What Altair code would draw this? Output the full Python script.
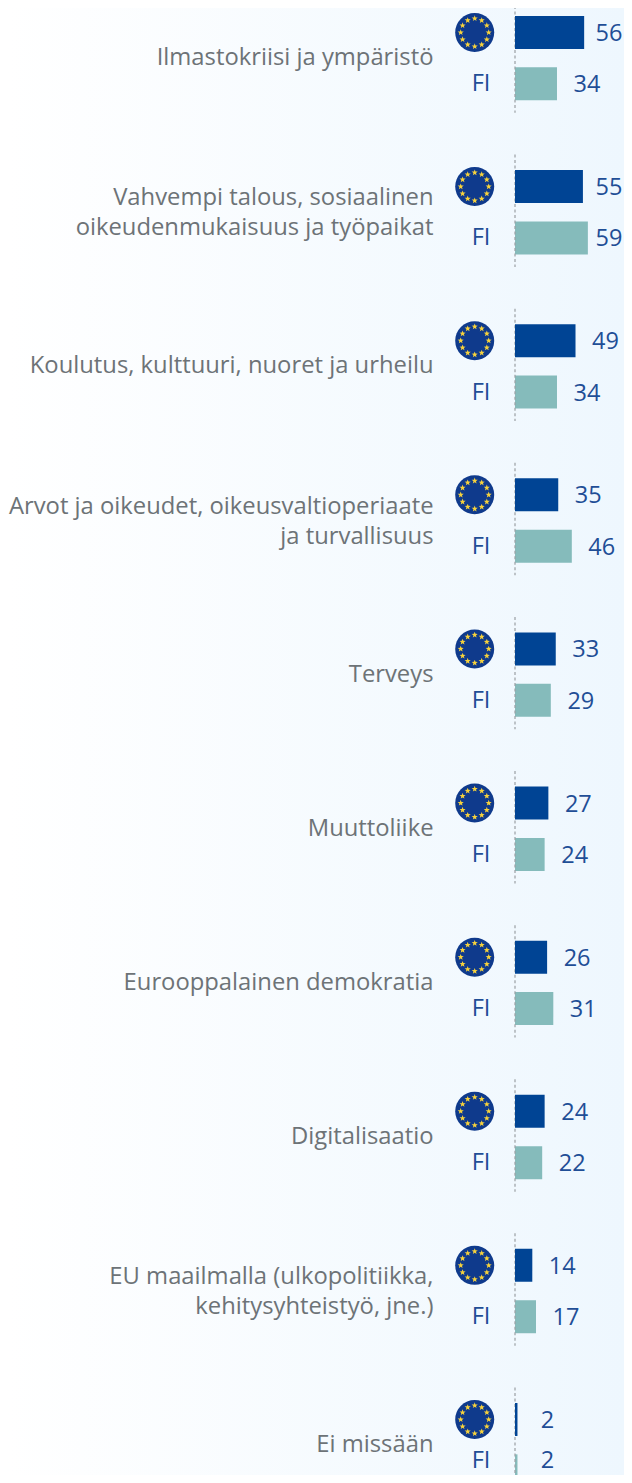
import math
import altair as alt
import pandas as pd

categories = ["Ilmastokriisi ja ympäristö",
              "Vahvempi talous, sosiaalinen\noikeudenmukaisuus ja työpaikat",
              "Koulutus, kulttuuri, nuoret ja urheilu",
              "Arvot ja oikeudet, oikeusvaltioperiaate\nja turvallisuus",
              "Terveys", "Muuttoliike", "Eurooppalainen demokratia", "Digitalisaatio",
              "EU maailmalla (ulkopolitiikka,\nkehitysyhteistyö, jne.)", "Ei missään"]
eu_values = [56, 55, 49, 35, 33, 27, 26, 24, 14, 2]
fi_values = [34, 59, 34, 46, 29, 24, 31, 22, 17, 2]

STEP = 51.37
PX = 1.235
MARGIN = 8
ORIGIN = 515 - MARGIN
W, H = 616, 1467
TOP = -1.2

slots = []
for i in range(len(categories)):
    slots += [f"{i}E", f"{i}F", f"{i}G"]

# value labels sit 30px past the bar end, held back from the chart's right edge
LABEL_GAP = 30 / PX
LABEL_MAX = (609 - 515) / PX

rows = []
for i, c in enumerate(categories):
    for group, v, s in (("EU", eu_values[i], "E"), ("FI", fi_values[i], "F")):
        rows.append(dict(slot=f"{i}{s}", slot2=f"{i}F", cat=c, value=v, group=group, zero=0,
                         lab=min(v + LABEL_GAP, LABEL_MAX), last=(i == len(categories) - 1 and s == "F"),
                         multi="\n" in c))
df = pd.DataFrame(rows)
eu_df = df[df.group == "EU"]
fi_df = df[df.group == "FI"]

x_scale = alt.Scale(domain=[-ORIGIN / PX, (W - ORIGIN) / PX], range=[0, W])
y_scale = alt.Scale(domain=slots, range=[TOP, TOP + STEP * len(slots)], paddingInner=0, paddingOuter=0)
X = alt.X("value:Q", scale=x_scale, axis=None)
Y = alt.Y("slot:N", scale=y_scale, axis=None, sort=None)

def star(cx, cy, r):
    pts = []
    for k in range(10):
        a = -math.pi / 2 + k * math.pi / 5
        rr = r if k % 2 == 0 else r * 0.42
        pts.append(f"{cx + rr * math.cos(a):.4f},{cy + rr * math.sin(a):.4f}")
    return "M" + "L".join(pts) + "Z"

stars_path = "".join(star(0.7 * math.cos(k * math.pi / 6), 0.7 * math.sin(k * math.pi / 6), 0.16)
                     for k in range(12))

bg = alt.Chart(pd.DataFrame({"a": [0]})).mark_rect(
    color=alt.LinearGradient(gradient="linear", x1=0, x2=1, y1=0, y2=0,
                             stops=[alt.GradientStop(offset=0, color="#ffffff"),
                                    alt.GradientStop(offset=1, color="#eef7fe")])
).encode(x=alt.value(0), x2=alt.value(W), y=alt.value(0), y2=alt.value(H))

rules = alt.Chart(eu_df).mark_rule(color="#9a9fa3", strokeWidth=1.2, strokeDash=[3, 2.5],
                                   yOffset=-32, y2Offset=29).encode(
    x=alt.X("zero:Q", scale=x_scale, axis=None), y=Y, y2="slot2:N")

bars_eu = alt.Chart(eu_df).mark_bar(color="#004494", height=33).encode(x=X, x2="zero:Q", y=Y)
bars_fi = alt.Chart(fi_df).mark_bar(color="#85bbbb", height=33).encode(x=X, x2="zero:Q", y=Y)

LABEL = dict(font="Open Sans", fontSize=23.5, color="#1f4e96", align="center", baseline="middle")
LX = alt.X("lab:Q", scale=x_scale, axis=None)
value_labels = alt.Chart(df[~df["last"]]).mark_text(dy=1.5, **LABEL).encode(x=LX, y=Y, text="value:Q")
value_last = alt.Chart(df[df["last"]]).mark_text(dy=-10, **LABEL).encode(x=LX, y=Y, text="value:Q")

flag_df = eu_df.assign(fx=(474.7 - 515) / PX)
FX = alt.X("fx:Q", scale=x_scale, axis=None)
flag = alt.Chart(flag_df).mark_point(filled=True, opacity=1, color="#0f3a8c", size=39 ** 2,
                                     strokeWidth=0, shape="circle").encode(x=FX, y=Y)
flag_stars = alt.Chart(flag_df).mark_point(filled=True, opacity=1, color="#f7d23c", size=1600,
                                           strokeWidth=0, shape=stars_path).encode(x=FX, y=Y)

fi_base = fi_df.assign(fx=(481 - 515) / PX, t="FI")
fi_text = alt.Chart(fi_base[~fi_base["last"]]).mark_text(dy=0.5, **LABEL).encode(x=FX, y=Y, text="t:N")
fi_last = alt.Chart(fi_base[fi_base["last"]]).mark_text(dy=-10, **LABEL).encode(x=FX, y=Y, text="t:N")

cat_df = eu_df.assign(lx=(433.5 - 515) / PX)
CAT = dict(font="Open Sans", fontSize=23.8, color="#6d7377", align="right", baseline="middle",
           lineBreak="\n", lineHeight=30)
CX = alt.X("lx:Q", scale=x_scale, axis=None)
cat_single = alt.Chart(cat_df[~cat_df["multi"]]).mark_text(dy=STEP / 2, **CAT).encode(x=CX, y=Y, text="cat:N")
cat_multi = alt.Chart(cat_df[cat_df["multi"]]).mark_text(dy=STEP / 2 - 14, **CAT).encode(x=CX, y=Y, text="cat:N")

chart = alt.layer(bg, bars_fi, rules, bars_eu, value_labels, value_last, flag, flag_stars,
                  fi_text, fi_last, cat_single, cat_multi).properties(
    width=W, height=H, padding=0, autosize=alt.AutoSizeParams(type="none")
).configure_view(stroke=None, clip=False)

chart.save("out.html", embed_options={"renderer": "svg", "actions": False})
